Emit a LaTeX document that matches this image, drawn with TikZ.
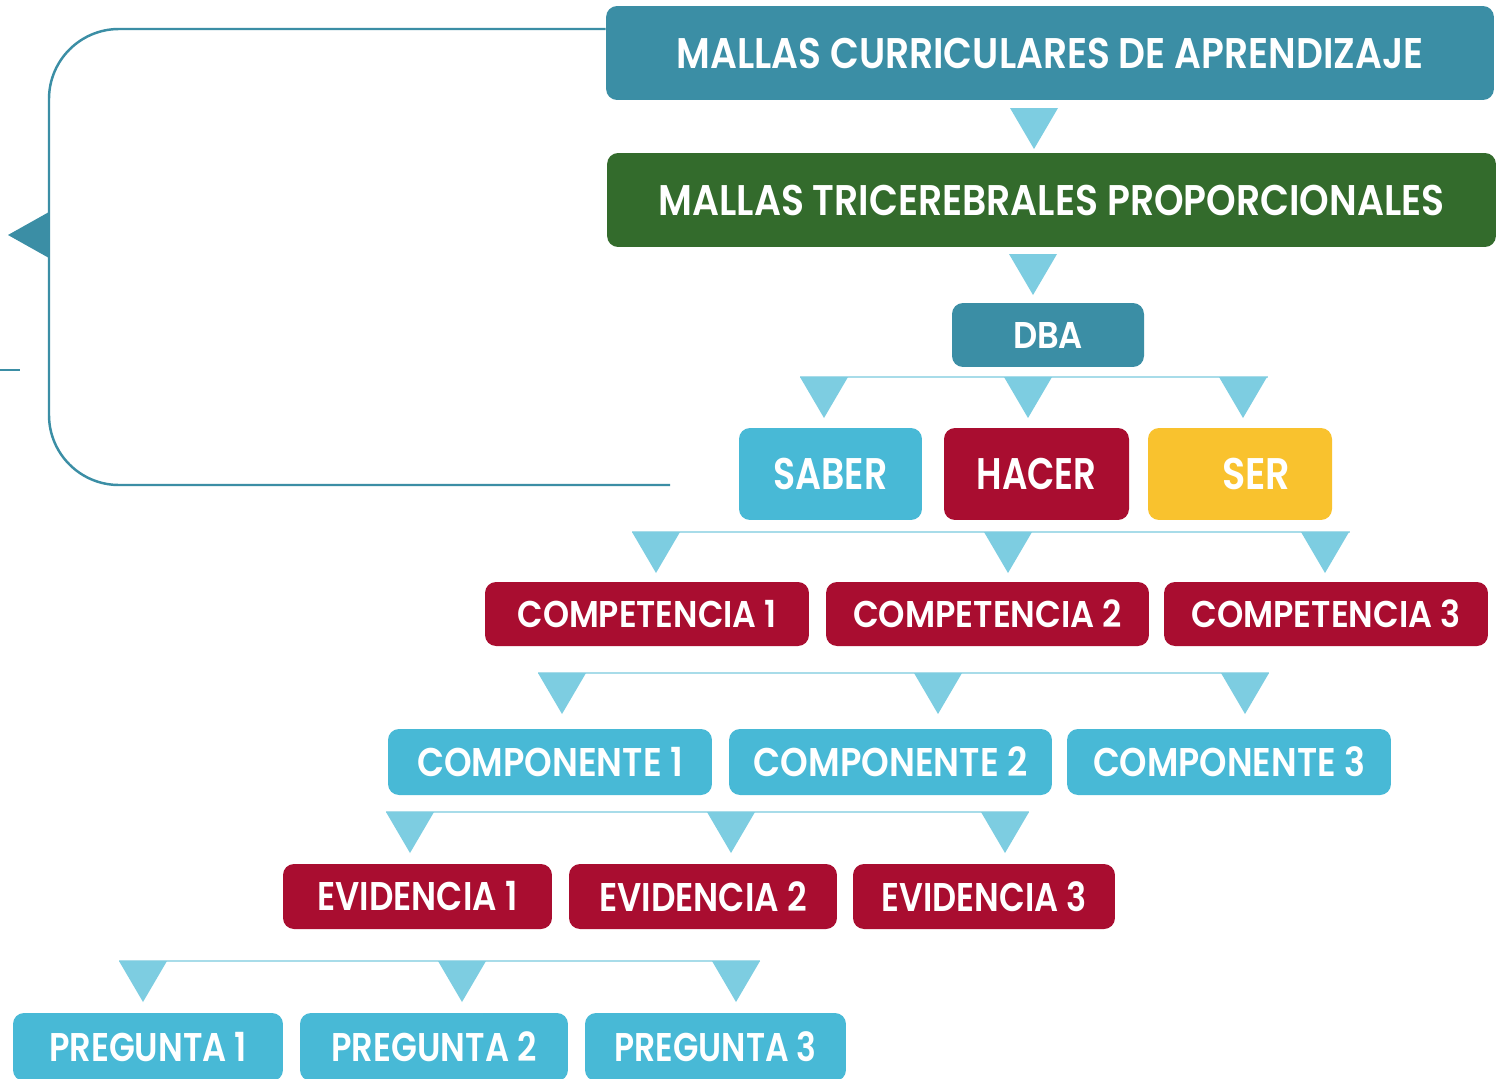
\documentclass[tikz,border=0pt]{standalone}
\usepackage{fontspec}
\setmainfont{Poppins}[BoldFont={Poppins SemiBold}]
\usepackage{graphicx}
\definecolor{tealc}{HTML}{3B8EA5}
\definecolor{greenc}{HTML}{336B2C}
\definecolor{lblue}{HTML}{48B9D6}
\definecolor{crimson}{HTML}{A90D30}
\definecolor{yellowc}{HTML}{F9C22E}
\definecolor{triblue}{HTML}{7DCDE1}
\definecolor{busblue}{HTML}{A8DCE9}
\newcommand\lab[3]{\resizebox{#2}{\height}{\fontsize{#1}{#1}\selectfont\bfseries #3}}
\tikzset{
  box/.style={rounded corners=0.22cm, inner sep=0pt, text=white, fill=#1},
  bus/.style={draw=busblue, line width=1.2pt},
  bracket/.style={draw=tealc, line width=1.4pt},
  downtri/.pic={\fill[triblue] (-24,0) -- (24,0) -- (0,41) -- cycle;}
}
\begin{document}
\begin{tikzpicture}[x=0.02cm,y=-0.02cm]
\fill[white] (0,0) rectangle (1496,1078);
\useasboundingbox (0,0) rectangle (1496,1078);

% level 1 and 2
\node[box=tealc, minimum width=17.76cm, minimum height=1.88cm] (mca) at (1050,53)
  {\lab{24.4pt}{14.94cm}{MALLAS CURRICULARES DE APRENDIZAJE}};
\node[box=greenc, minimum width=17.78cm, minimum height=1.88cm] (mtp) at (1051.5,200)
  {\lab{24.4pt}{15.72cm}{MALLAS TRICEREBRALES PROPORCIONALES}};
\node[box=tealc, minimum width=3.84cm, minimum height=1.28cm] (dba) at (1048,335)
  {\lab{21.2pt}{1.4cm}{DBA}};

% saber hacer ser
\node[box=lblue, minimum width=3.66cm, minimum height=1.84cm] (saber) at (830.5,474)
  {\lab{25.2pt}{2.28cm}{SABER}};
\node[box=crimson, minimum width=3.70cm, minimum height=1.84cm] (hacer) at (1036.5,474)
  {\lab{25.2pt}{2.4cm}{HACER}};
\node[box=yellowc, minimum width=3.68cm, minimum height=1.84cm] (ser) at (1240,474)
  {\hspace*{0.64cm}\lab{25.2pt}{1.36cm}{SER}};

% competencias
\node[box=crimson, minimum width=6.48cm, minimum height=1.28cm] (comp1) at (647,614)
  {\lab{21.2pt}{5.18cm}{COMPETENCIA 1}};
\node[box=crimson, minimum width=6.46cm, minimum height=1.28cm] (comp2) at (987.5,614)
  {\lab{21.2pt}{5.38cm}{COMPETENCIA 2}};
\node[box=crimson, minimum width=6.48cm, minimum height=1.28cm] (comp3) at (1326,614)
  {\lab{21.2pt}{5.38cm}{COMPETENCIA 3}};

% componentes
\node[box=lblue, minimum width=6.48cm, minimum height=1.32cm] (compo1) at (550,762)
  {\lab{22.8pt}{5.32cm}{COMPONENTE 1}};
\node[box=lblue, minimum width=6.46cm, minimum height=1.32cm] (compo2) at (890.5,762)
  {\lab{22.8pt}{5.48cm}{COMPONENTE 2}};
\node[box=lblue, minimum width=6.48cm, minimum height=1.32cm] (compo3) at (1229,762)
  {\lab{22.8pt}{5.44cm}{COMPONENTE 3}};

% evidencias
\node[box=crimson, minimum width=5.38cm, minimum height=1.30cm] (ev1) at (417.5,896.5)
  {\lab{22.8pt}{4.0cm}{EVIDENCIA 1}};
\node[box=crimson, minimum width=5.36cm, minimum height=1.30cm] (ev2) at (703,896.5)
  {\lab{22.8pt}{4.16cm}{EVIDENCIA 2}};
\node[box=crimson, minimum width=5.24cm, minimum height=1.30cm] (ev3) at (984,896.5)
  {\lab{22.8pt}{4.1cm}{EVIDENCIA 3}};

% preguntas
\node[box=lblue, minimum width=5.40cm, minimum height=1.36cm] (p1) at (148,1047)
  {\lab{22.8pt}{3.96cm}{PREGUNTA 1}};
\node[box=lblue, minimum width=5.36cm, minimum height=1.36cm] (p2) at (434,1047)
  {\lab{22.8pt}{4.1cm}{PREGUNTA 2}};
\node[box=lblue, minimum width=5.22cm, minimum height=1.36cm] (p3) at (715.5,1047)
  {\lab{22.8pt}{4.04cm}{PREGUNTA 3}};

% single connectors
\coordinate (t01) at (1034,108);
\coordinate (t02) at (1033,254);
\pic at (t01) {downtri};
\pic at (t02) {downtri};

% bus DBA -> saber hacer ser
\coordinate (b1a) at (800,377); \coordinate (b1b) at (1268,377);
\draw[bus] (b1a) -- (b1b);
\pic at (824,377) {downtri};
\pic at (1028,377) {downtri};
\pic at (1243,377) {downtri};

% bus -> competencias
\coordinate (b2a) at (632,532); \coordinate (b2b) at (1350,532);
\draw[bus] (b2a) -- (b2b);
\pic at (656,532) {downtri};
\pic at (1008,532) {downtri};
\pic at (1325,532) {downtri};

% bus -> componentes
\coordinate (b3a) at (538,673); \coordinate (b3b) at (1269,673);
\draw[bus] (b3a) -- (b3b);
\pic at (562,673) {downtri};
\pic at (938,673) {downtri};
\pic at (1245,673) {downtri};

% bus -> evidencias
\coordinate (b4a) at (386,812); \coordinate (b4b) at (1029,812);
\draw[bus] (b4a) -- (b4b);
\pic at (410,812) {downtri};
\pic at (731,812) {downtri};
\pic at (1005,812) {downtri};

% bus -> preguntas
\coordinate (b5a) at (119,961); \coordinate (b5b) at (760,961);
\draw[bus] (b5a) -- (b5b);
\pic at (143,961) {downtri};
\pic at (462,961) {downtri};
\pic at (736,961) {downtri};

% left bracket
\coordinate (brTop) at (mca.west |- 0,29);
\coordinate (brEnd) at (670,485);
\draw[bracket, rounded corners=1.4cm] (brTop) -- (49,29) -- (49,485) -- (brEnd);
\fill[tealc] (49,212) -- (8,235) -- (49,258) -- cycle;
\coordinate (stubA) at (0,370); \coordinate (stubB) at (20,370);
\draw[bracket] (stubA) -- (stubB);
\end{tikzpicture}
\end{document}
